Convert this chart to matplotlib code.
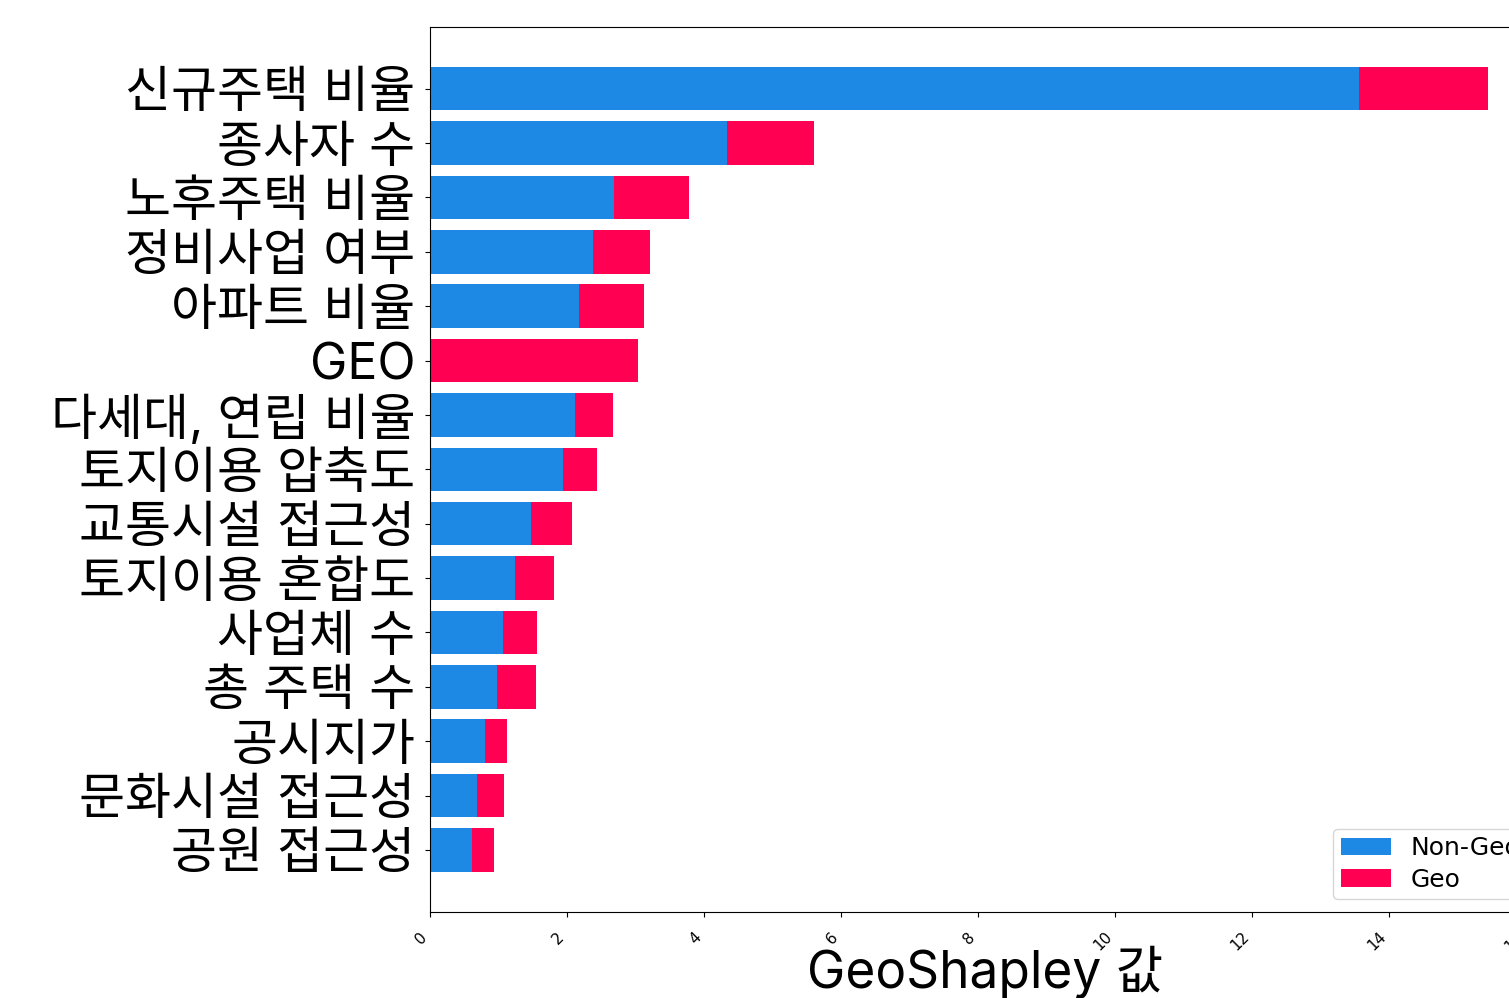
import numpy as np
import matplotlib
matplotlib.use("Agg")
import matplotlib.pyplot as plt

# feature names, top to bottom
features = ['신규주택 비율', '종사자 수', '노후주택 비율', '정비사업 여부', '아파트 비율',
            'GEO', '다세대, 연립 비율', '토지이용 압축도', '교통시설 접근성', '토지이용 혼합도',
            '사업체 수', '총 주택 수', '공시지가', '문화시설 접근성', '공원 접근성']

# mean |GeoShapley| split into non-geo part and geo (interaction) part
non_geo = [13.56, 4.33, 2.68, 2.38, 2.17, 0.00, 2.11, 1.94, 1.47, 1.24, 1.07, 0.98, 0.80, 0.69, 0.61]
geo = [1.88, 1.27, 1.10, 0.83, 0.95, 3.03, 0.56, 0.49, 0.60, 0.57, 0.49, 0.57, 0.32, 0.39, 0.33]

BLUE = '#1E88E5'
RED = '#FF0052'
KR_FONT = ['Inter', 'Noto Sans CJK KR']

fig = plt.figure(figsize=(15.09, 9.98), dpi=100)
# the axes runs past the right edge of the picture on purpose
ax = fig.add_axes([0.285, 0.0862, 0.736, 0.887])

y = np.arange(len(features))
ax.barh(y, non_geo, height=0.8, color=BLUE, label='Non-Geo')
ax.barh(y, geo, left=non_geo, height=0.8, color=RED, label='Geo')
ax.invert_yaxis()

ax.set_yticks(y)
ax.set_yticklabels(features, fontsize=36, family=KR_FONT)
ax.tick_params(axis='y', pad=7)
ax.set_xticks(np.arange(0, 17, 2))
ax.tick_params(axis='x', pad=9)
plt.setp(ax.get_xticklabels(), rotation=45, ha='right', fontsize=11)

ax.set_xlabel('GeoShapley 값', fontsize=37, family=KR_FONT)
ax.xaxis.set_label_coords(0.5, -0.038)

ax.legend(loc='lower right', fontsize=18, labelspacing=0.3, borderpad=0.3)

fig.savefig('out.png', dpi=100)
